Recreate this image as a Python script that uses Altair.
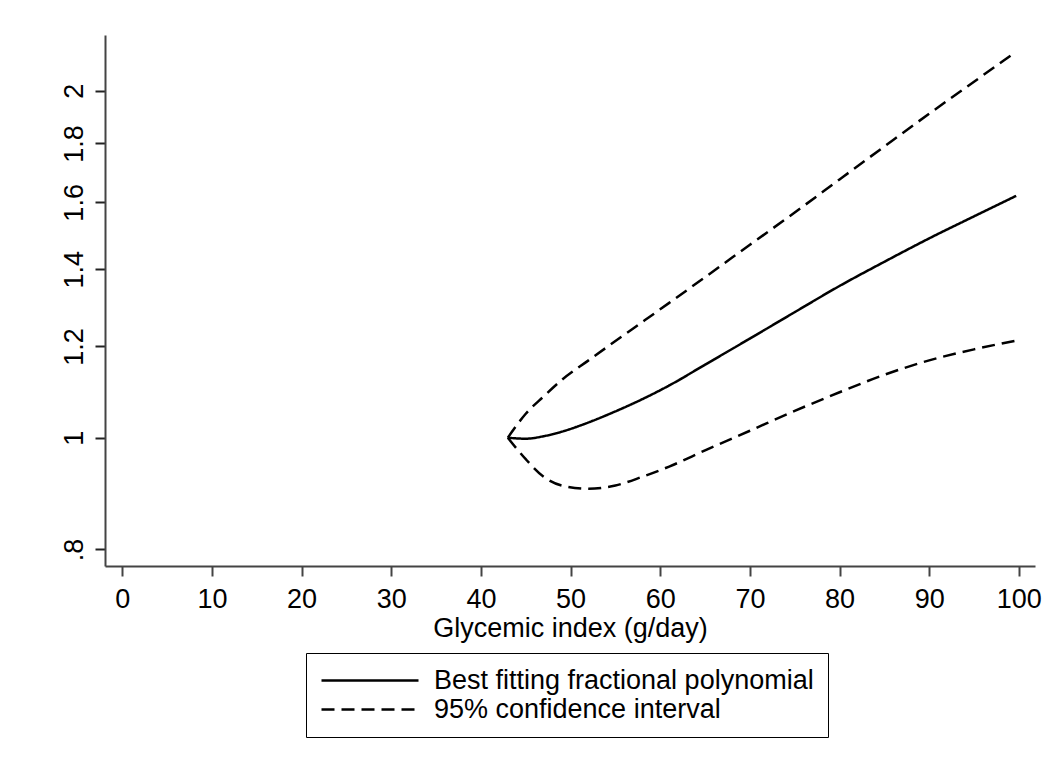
import altair as alt
import pandas as pd

# ---- data ----
x_vals = [43, 45, 47, 49, 52, 55, 58, 61, 65, 70, 75, 80, 85, 90, 95, 99.7]
fit_vals = [1.000, 0.998, 1.003, 1.012, 1.031, 1.054, 1.080, 1.110, 1.157, 1.219,
            1.285, 1.354, 1.421, 1.489, 1.556, 1.621]
upper_vals = [1.000, 1.049, 1.086, 1.122, 1.167, 1.213, 1.260, 1.309, 1.378, 1.470,
              1.568, 1.675, 1.789, 1.910, 2.036, 2.162]
lower_vals = [1.000, 0.958, 0.925, 0.909, 0.903, 0.909, 0.925, 0.944, 0.975, 1.014,
              1.055, 1.095, 1.134, 1.167, 1.193, 1.214]

series_names = ["Best fitting fractional polynomial", "95% confidence interval"]
x_ticks = [0, 10, 20, 30, 40, 50, 60, 70, 80, 90, 100]
y_ticks = [0.8, 1.0, 1.2, 1.4, 1.6, 1.8, 2.0]
y_tick_labels = [".8", "1", "1.2", "1.4", "1.6", "1.8", "2"]
x_title = "Glycemic index (g/day)"

rows = []
for curve, vals, series in [("fit", fit_vals, series_names[0]),
                            ("upper", upper_vals, series_names[1]),
                            ("lower", lower_vals, series_names[1])]:
    for i, (x, y) in enumerate(zip(x_vals, vals)):
        rows.append({"x": x, "y": y, "curve": curve, "series": series, "order": i})
df = pd.DataFrame(rows)

label_expr = " : ".join(
    [f"abs(datum.value - {v}) < 1e-6 ? '{l}'" for v, l in zip(y_ticks, y_tick_labels)]
) + " : ''"

FONT = "Liberation Sans"
FS = 27

chart = alt.Chart(df).mark_line(
    color="black", strokeWidth=2.5, interpolate="monotone"
).encode(
    x=alt.X("x:Q",
            scale=alt.Scale(domain=[-1.93, 101.8], nice=False, zero=False),
            axis=alt.Axis(values=x_ticks, title=x_title, grid=False,
                          tickSize=10, tickWidth=2, tickColor="#444",
                          domainColor="#444", domainWidth=2,
                          labelFontSize=FS, labelFont=FONT, labelColor="black",
                          labelPadding=10, labelFlush=False,
                          titleFont=FONT, titleFontSize=FS, titleFontWeight="normal",
                          titleColor="black", titlePadding=3)),
    y=alt.Y("y:Q",
            scale=alt.Scale(type="log", domain=[0.774, 2.235], nice=False, zero=False),
            axis=alt.Axis(values=y_ticks, labelExpr=label_expr, title=None, grid=False,
                          tickSize=10, tickWidth=2, tickColor="#222",
                          domainColor="#444", domainWidth=2,
                          labelAngle=270, labelAlign="center", labelBaseline="alphabetic",
                          labelFontSize=FS, labelFont=FONT, labelColor="black",
                          labelPadding=13, labelFlush=False)),
    strokeDash=alt.StrokeDash("series:N",
                              scale=alt.Scale(domain=series_names, range=[[1, 0], [13, 7]]),
                              legend=alt.Legend(title=None, orient="none",
                                                legendX=201, legendY=618,
                                                symbolType="M-1.2,0H8.5",
                                                symbolSize=400,
                                                symbolStrokeWidth=2.5,
                                                symbolStrokeColor="black",
                                                labelFontSize=FS, labelFont=FONT,
                                                labelColor="black", labelOffset=87,
                                                labelLimit=600,
                                                padding=14, rowPadding=1,
                                                strokeColor="black", fillColor="white")),
    detail="curve:N",
    order="order:Q",
).properties(
    width=930, height=531,
    padding={"left": 105, "top": 35, "right": 28, "bottom": 207},
    autosize=alt.AutoSizeParams(type="none"),
    background="white",
).configure_view(stroke=None)

chart.save("out.html", embed_options={"renderer": "svg", "actions": False})
